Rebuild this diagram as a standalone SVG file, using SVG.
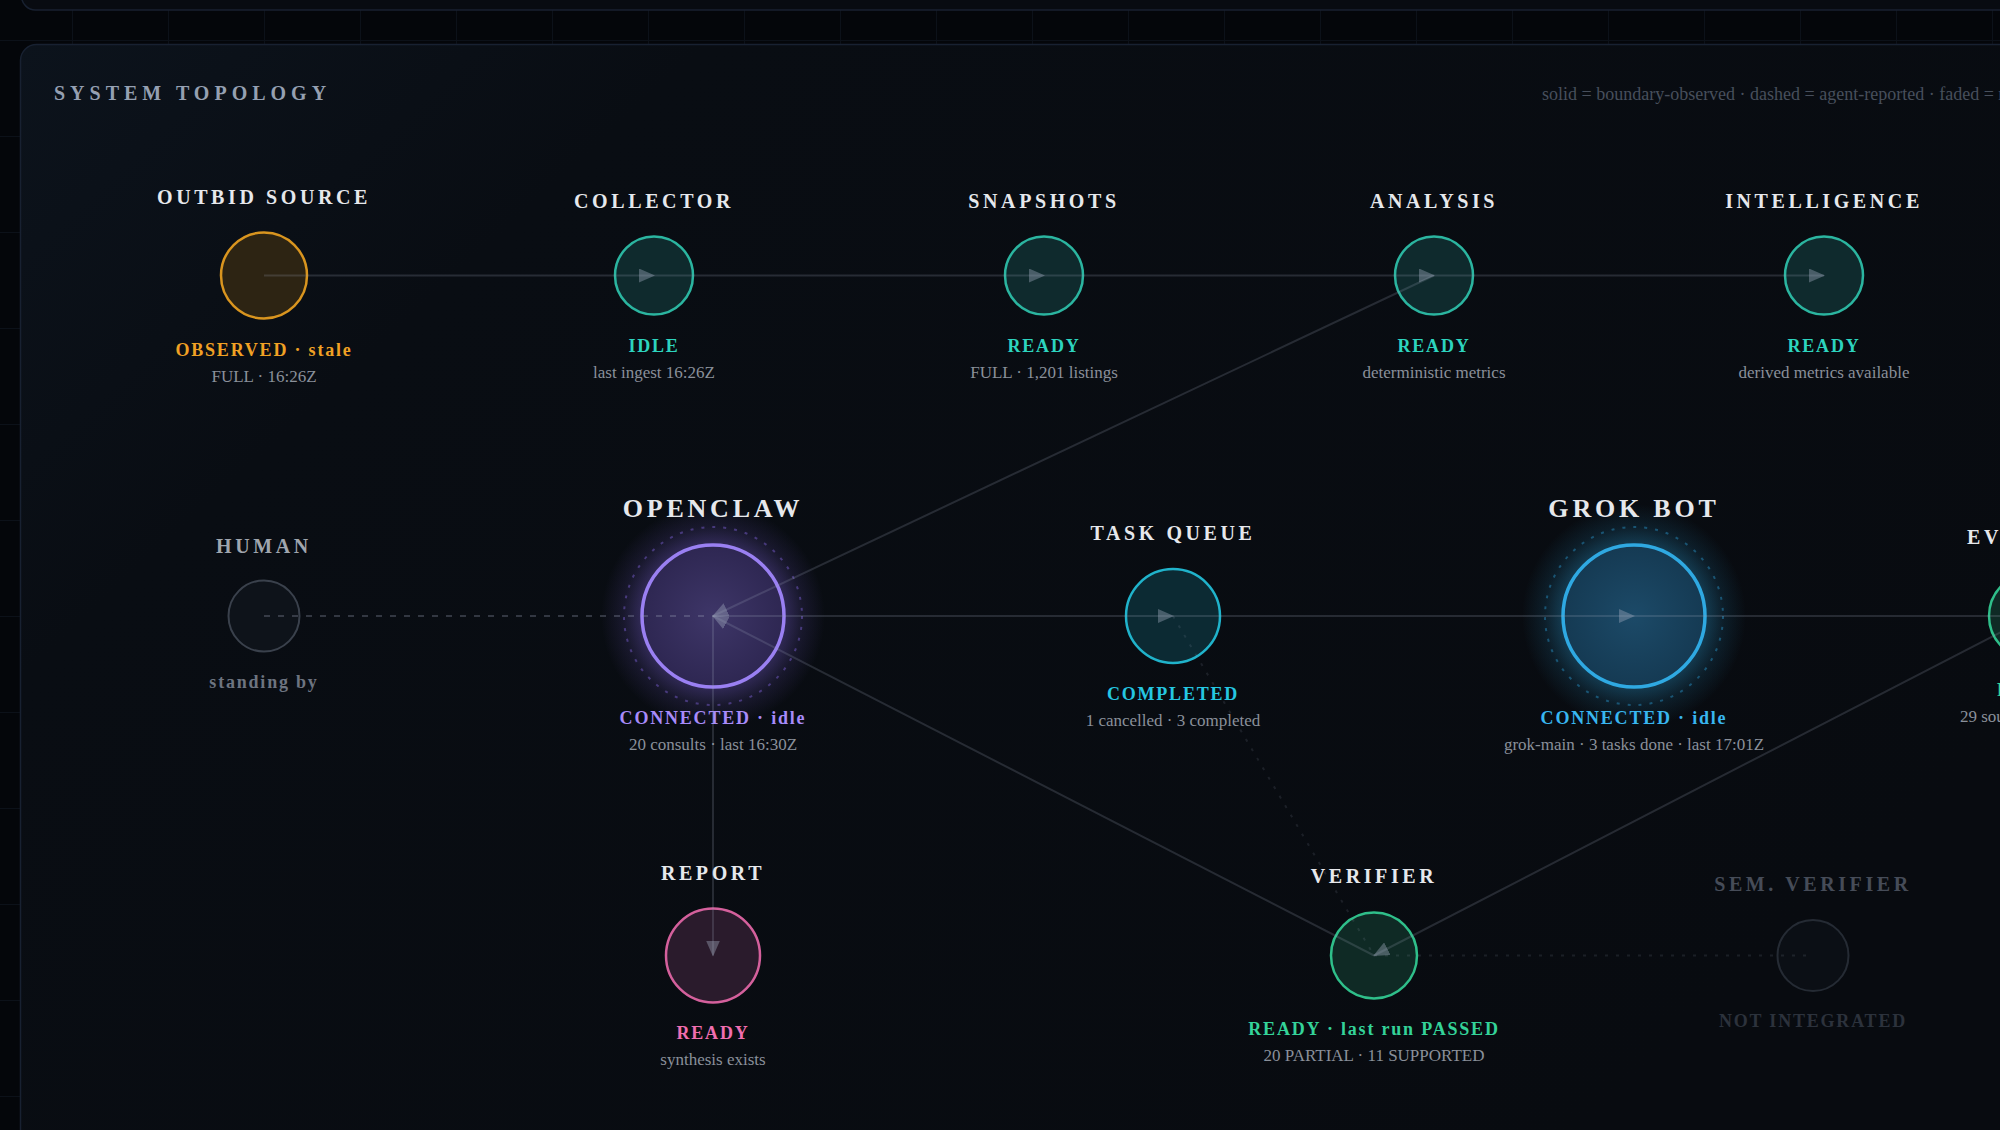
<svg xmlns="http://www.w3.org/2000/svg" width="2000" height="1130" viewBox="0 0 2000 1130">
<defs>
<pattern id="grid" x="72" y="40" width="96" height="96" patternUnits="userSpaceOnUse">
<path d="M0.5,0 V96 M0,0.5 H96" stroke="#0c1119" stroke-width="1" fill="none"/>
</pattern>
<linearGradient id="panelG" x1="0" y1="0" x2="1" y2="0.6">
<stop offset="0" stop-color="#0c131c"/>
<stop offset="0.25" stop-color="#090d13"/>
<stop offset="1" stop-color="#080b10"/>
</linearGradient>
<radialGradient id="glowP" cx="0.5" cy="0.5" r="0.5">
<stop offset="0.6" stop-color="#8b6cf0" stop-opacity="0.35"/>
<stop offset="0.8" stop-color="#8b6cf0" stop-opacity="0.12"/>
<stop offset="1" stop-color="#8b6cf0" stop-opacity="0"/>
</radialGradient>
<radialGradient id="glowB" cx="0.5" cy="0.5" r="0.5">
<stop offset="0.6" stop-color="#2ea6e0" stop-opacity="0.35"/>
<stop offset="0.8" stop-color="#2ea6e0" stop-opacity="0.12"/>
<stop offset="1" stop-color="#2ea6e0" stop-opacity="0"/>
</radialGradient>
<radialGradient id="fillP" cx="0.5" cy="0.5" r="0.5">
<stop offset="0" stop-color="#3e3668"/>
<stop offset="1" stop-color="#2e2752"/>
</radialGradient>
<radialGradient id="fillB" cx="0.5" cy="0.5" r="0.5">
<stop offset="0" stop-color="#1c4a68"/>
<stop offset="1" stop-color="#153a53"/>
</radialGradient>
<marker id="arr" markerUnits="userSpaceOnUse" viewBox="0 0 16 14" markerWidth="16" markerHeight="14" refX="15" refY="7" orient="auto">
<path d="M0,0 L16,7 L0,14 z" fill="#a0aabe" fill-opacity="0.4"/>
</marker>
<style>
text{font-family:"Liberation Serif","Times New Roman",serif;text-anchor:middle}
.t{font-weight:bold;font-size:20px;letter-spacing:3.6px;fill:#e6e8ec}
.tb{font-weight:bold;font-size:26px;letter-spacing:3.8px;fill:#e6e8ec}
.s{font-weight:bold;font-size:18px;letter-spacing:1.8px}
.d{font-size:17px;fill:#8a909a}
.edge{fill:none;stroke:#a0aabe;stroke-opacity:0.2;stroke-width:2}
.dash{stroke-dasharray:6 8;stroke-opacity:0.28}
.dot{stroke-dasharray:3 8;stroke-opacity:0.13}
.teal{fill:#0f2a2d;stroke:#2bb5a0;stroke-width:2.5}
.tealT{fill:#2dd4bf}
.ring{fill:none;stroke-width:2;stroke-dasharray:3 8}
</style>
</defs>

<rect x="0" y="0" width="2000" height="1130" fill="#04060a"/>
<rect x="0" y="0" width="2000" height="1130" fill="url(#grid)"/>
<rect x="21.5" y="-30" width="2010" height="40" rx="14" fill="#080b11" stroke="#182131" stroke-width="1.5"/>
<rect x="20.5" y="44.5" width="2020" height="1120" rx="16" fill="url(#panelG)" stroke="#182131" stroke-width="1.5"/>

<text x="54" y="100" style="text-anchor:start;font-weight:bold;font-size:20px;letter-spacing:5px;fill:#95a0b2">SYSTEM TOPOLOGY</text>
<text x="1542" y="100" style="text-anchor:start;font-size:18px;fill:#474f5c">solid = boundary-observed · dashed = agent-reported · faded = r</text>

<g id="nodes">
<g id="node-outbid">
<circle cx="264" cy="275.5" r="43" fill="#2d2413" stroke="#d9951f" stroke-width="2.5"/>
<text class="t" x="264" y="204">OUTBID SOURCE</text>
<text class="s" x="264" y="356" fill="#f0a124">OBSERVED · stale</text>
<text class="d" x="264" y="382">FULL · 16:26Z</text>
</g>
<g id="node-collector">
<circle class="teal" cx="654" cy="275.5" r="39"/>
<text class="t" x="654" y="208">COLLECTOR</text>
<text class="s tealT" x="654" y="352">IDLE</text>
<text class="d" x="654" y="378">last ingest 16:26Z</text>
</g>
<g id="node-snapshots">
<circle class="teal" cx="1044" cy="275.5" r="39"/>
<text class="t" x="1044" y="208">SNAPSHOTS</text>
<text class="s tealT" x="1044" y="352">READY</text>
<text class="d" x="1044" y="378">FULL · 1,201 listings</text>
</g>
<g id="node-analysis">
<circle class="teal" cx="1434" cy="275.5" r="39"/>
<text class="t" x="1434" y="208">ANALYSIS</text>
<text class="s tealT" x="1434" y="352">READY</text>
<text class="d" x="1434" y="378">deterministic metrics</text>
</g>
<g id="node-intelligence">
<circle class="teal" cx="1824" cy="275.5" r="39"/>
<text class="t" x="1824" y="208">INTELLIGENCE</text>
<text class="s tealT" x="1824" y="352">READY</text>
<text class="d" x="1824" y="378">derived metrics available</text>
</g>
<g id="node-human">
<circle cx="264" cy="616" r="35.5" fill="#0e131a" stroke="#3a414c" stroke-width="2"/>
<text class="t" x="264" y="553" style="fill:#a0a6ae">HUMAN</text>
<text class="s" x="264" y="688" fill="#6d7480">standing by</text>
</g>
<g id="node-openclaw">
<circle cx="713" cy="616" r="112" fill="url(#glowP)"/>
<circle class="ring" cx="713" cy="616" r="89" stroke="#8b6cf0" stroke-opacity="0.4"/>
<circle cx="713" cy="616" r="71" fill="url(#fillP)" stroke="#9a80f2" stroke-width="3.5"/>
<text class="tb" x="713" y="517">OPENCLAW</text>
<text class="s" x="713" y="724" fill="#a78bfa">CONNECTED · idle</text>
<text class="d" x="713" y="750">20 consults · last 16:30Z</text>
</g>
<g id="node-taskqueue">
<circle cx="1173" cy="616" r="47" fill="#0c2a33" stroke="#20b3cb" stroke-width="2.5"/>
<text class="t" x="1173" y="540">TASK QUEUE</text>
<text class="s" x="1173" y="700" fill="#25c7e2">COMPLETED</text>
<text class="d" x="1173" y="726">1 cancelled · 3 completed</text>
</g>
<g id="node-grok">
<circle cx="1634" cy="616" r="112" fill="url(#glowB)"/>
<circle class="ring" cx="1634" cy="616" r="89" stroke="#2ea6e0" stroke-opacity="0.4"/>
<circle cx="1634" cy="616" r="71" fill="url(#fillB)" stroke="#2fa9e2" stroke-width="3.5"/>
<text class="tb" x="1634" y="517">GROK BOT</text>
<text class="s" x="1634" y="724" fill="#38b6f0">CONNECTED · idle</text>
<text class="d" x="1634" y="750">grok-main · 3 tasks done · last 17:01Z</text>
</g>
<g id="node-ev">
<circle cx="2032" cy="616" r="43" fill="#0f2a25" stroke="#2fbf8a" stroke-width="2.5"/>
<text class="t" x="1967" y="544" style="text-anchor:start">EV</text>
<text class="s" x="1997" y="696" fill="#34d399" style="text-anchor:start">R</text>
<text class="d" x="1960" y="722" style="text-anchor:start">29 sou</text>
</g>
<g id="node-report">
<circle cx="713" cy="955.5" r="47" fill="#2a1b2c" stroke="#d4609c" stroke-width="2.5"/>
<text class="t" x="713" y="880">REPORT</text>
<text class="s" x="713" y="1039" fill="#f06eb0">READY</text>
<text class="d" x="713" y="1065">synthesis exists</text>
</g>
<g id="node-verifier">
<circle cx="1374" cy="955.5" r="43" fill="#0f2a25" stroke="#2fbf8a" stroke-width="2.5"/>
<text class="t" x="1374" y="883">VERIFIER</text>
<text class="s" x="1374" y="1035" fill="#34d399">READY · last run PASSED</text>
<text class="d" x="1374" y="1061">20 PARTIAL · 11 SUPPORTED</text>
</g>
<g id="node-semverifier">
<circle cx="1813" cy="955.5" r="35.5" fill="#0b0f15" stroke="#252b34" stroke-width="2"/>
<text class="t" x="1813" y="891" style="fill:#464c58">SEM. VERIFIER</text>
<text class="s" x="1813" y="1027" fill="#2c323c">NOT INTEGRATED</text>
</g>
</g>

<g id="connectors">
<line class="edge" x1="264" y1="275.5" x2="654" y2="275.5" marker-end="url(#arr)"/>
<line class="edge" x1="654" y1="275.5" x2="1044" y2="275.5" marker-end="url(#arr)"/>
<line class="edge" x1="1044" y1="275.5" x2="1434" y2="275.5" marker-end="url(#arr)"/>
<line class="edge" x1="1434" y1="275.5" x2="1824" y2="275.5" marker-end="url(#arr)"/>
<line class="edge dash" x1="264" y1="616" x2="713" y2="616"/>
<line class="edge" x1="1434" y1="275.5" x2="713" y2="616" marker-end="url(#arr)"/>
<line class="edge" x1="713" y1="616" x2="1173" y2="616" marker-end="url(#arr)"/>
<line class="edge" x1="1173" y1="616" x2="1634" y2="616" marker-end="url(#arr)"/>
<line class="edge" x1="1634" y1="616" x2="2032" y2="616" marker-end="url(#arr)"/>
<line class="edge" x1="713" y1="616" x2="713" y2="955.5" marker-end="url(#arr)"/>
<line class="edge" x1="1374" y1="955.5" x2="713" y2="616" marker-end="url(#arr)"/>
<line class="edge" x1="2032" y1="616" x2="1374" y2="955.5" marker-end="url(#arr)"/>
<line class="edge dot" x1="1173" y1="616" x2="1374" y2="955.5"/>
<line class="edge dot" x1="1374" y1="955.5" x2="1813" y2="955.5"/>
</g>
</svg>
